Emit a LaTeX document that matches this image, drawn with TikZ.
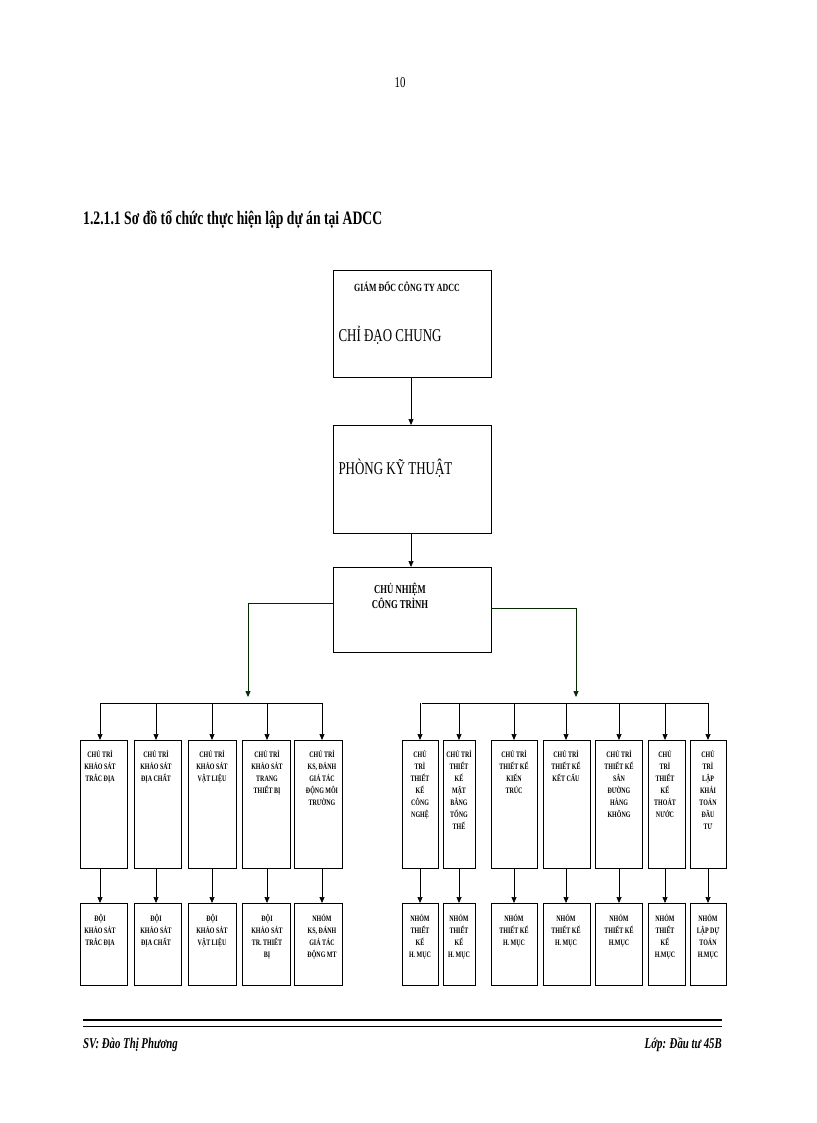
\documentclass[tikz,border=0pt]{standalone}
\usepackage{fontspec}
\setmainfont{Liberation Serif}
\newfontfamily\narrow[FakeStretch=0.72]{Liberation Serif}
\usetikzlibrary{arrows.meta}
\begin{document}
\begin{tikzpicture}[x=1pt,y=-1pt,
 box/.style={draw,line width=1pt},
 arr/.style={-{Triangle[length=6pt,width=5pt]},line width=0.7pt},
 small/.style={font=\narrow\bfseries\fontsize{8.3}{12}\selectfont,align=center,anchor=north,inner sep=0pt}]
\useasboundingbox (0,0) rectangle (816,1123);
\node[font=\narrow\fontsize{15}{17}\selectfont] (pg) at (400,83) {10};
\node[font=\narrow\bfseries\fontsize{19}{21}\selectfont,anchor=west,inner sep=0pt] (ttl) at (83,220) {1.2.1.1 Sơ đồ tổ chức thực hiện lập dự án tại ADCC};
% main boxes
\draw[box] (333,270) rectangle (491,377);
\coordinate (b1t) at (411,377);
\node[font=\narrow\bfseries\fontsize{11}{13}\selectfont] (t1) at (407,287) {GIÁM ĐỐC CÔNG TY ADCC};
\node[font=\narrow\fontsize{18}{20}\selectfont,anchor=west] (t2) at (335,335) {CHỈ ĐẠO CHUNG};
\draw[box] (333,425) rectangle (491,533);
\coordinate (b2t) at (411,425); \coordinate (b2b) at (411,533);
\node[font=\narrow\fontsize{18}{20}\selectfont,anchor=west] (t3) at (335,468) {PHÒNG KỸ THUẬT};
\draw[box] (333,567) rectangle (491,652);
\coordinate (b3t) at (411,567); \coordinate (b3l) at (333,603); \coordinate (b3r) at (491,608);
\node[font=\narrow\bfseries\fontsize{12}{15}\selectfont,align=center] (t4) at (400,596) {CHỦ NHIỆM\\CÔNG TRÌNH};
\draw[arr] (b1t) -- (b2t);
\draw[arr] (b2b) -- (b3t);
\coordinate (lb) at (248,697); \coordinate (rb) at (576,697);
\draw[arr,draw=black!60!green!40!black] (b3l) -| (lb);
\draw[arr,draw=black!60!green!40!black] (b3r) -| (rb);
\draw[line width=0.8pt] (100,703) coordinate (lbl) -- (323,703) coordinate (lbr);
\draw[line width=0.8pt] (422,703) coordinate (rbl) -- (708,703) coordinate (rbr);
\foreach \c/\l/\r/\ta/\tb [count=\i] in {
 100/80/127/{CHỦ TRÌ\\KHẢO SÁT\\TRẮC ĐỊA}/{ĐỘI\\KHẢO SÁT\\TRẮC ĐỊA},
 156/134/181/{CHỦ TRÌ\\KHẢO SÁT\\ĐỊA CHẤT}/{ĐỘI\\KHẢO SÁT\\ĐỊA CHẤT},
 212/188/236/{CHỦ TRÌ\\KHẢO SÁT\\VẬT LIỆU}/{ĐỘI\\KHẢO SÁT\\VẬT LIỆU},
 267/242/290/{CHỦ TRÌ\\KHẢO SÁT\\TRANG\\THIẾT BỊ}/{ĐỘI\\KHẢO SÁT\\TR. THIẾT\\BỊ},
 322/294/342/{CHỦ TRÌ\\KS, ĐÁNH\\GIÁ TÁC\\ĐỘNG MÔI\\TRƯỜNG}/{NHÓM\\KS, ĐÁNH\\GIÁ TÁC\\ĐỘNG MT},
 420/402/438/{CHỦ\\TRÌ\\THIẾT\\KẾ\\CÔNG\\NGHỆ}/{NHÓM\\THIẾT\\KẾ\\H. MỤC},
 459/443/475/{CHỦ TRÌ\\THIẾT\\KẾ\\MẶT\\BẰNG\\TỔNG\\THỂ}/{NHÓM\\THIẾT\\KẾ\\H. MỤC},
 514/491/537/{CHỦ TRÌ\\THIẾT KẾ\\KIẾN\\TRÚC}/{NHÓM\\THIẾT KẾ\\H. MỤC},
 566/543/590/{CHỦ TRÌ\\THIẾT KẾ\\KẾT CẤU}/{NHÓM\\THIẾT KẾ\\H. MỤC},
 619/595/642/{CHỦ TRÌ\\THIẾT KẾ\\SÂN\\ĐƯỜNG\\HÀNG\\KHÔNG}/{NHÓM\\THIẾT KẾ\\H.MỤC},
 665/648/685/{CHỦ\\TRÌ\\THIẾT\\KẾ\\THOÁT\\NƯỚC}/{NHÓM\\THIẾT\\KẾ\\H.MỤC},
 708/690/726/{CHỦ\\TRÌ\\LẬP\\KHÁI\\TOÁN\\ĐẦU\\TƯ}/{NHÓM\\LẬP DỰ\\TOÁN\\H.MỤC}} {
 \draw[box] (\l,740) rectangle (\r,868);
 \draw[box] (\l,903) rectangle (\r,985);
 \node[small] (u\i) at (\c,750) {\ta};
 \node[small] (d\i) at (\c,914) {\tb};
 \draw[arr] (\c,703) -- (\c,740);
 \draw[arr] (\c,868) -- (\c,903);
}
\draw[line width=2.5pt] (83,1020) -- (722,1020);
\draw[line width=0.8pt] (83,1026.5) -- (722,1026.5);
\node[font=\narrow\bfseries\itshape\fontsize{15}{17}\selectfont,anchor=west,inner sep=0pt] (sv) at (83,1045) {SV: Đào Thị Phương};
\node[font=\narrow\bfseries\itshape\fontsize{15}{17}\selectfont,anchor=east,inner sep=0pt] (lop) at (722,1045) {Lớp: Đầu tư 45B};
\end{tikzpicture}
\end{document}
